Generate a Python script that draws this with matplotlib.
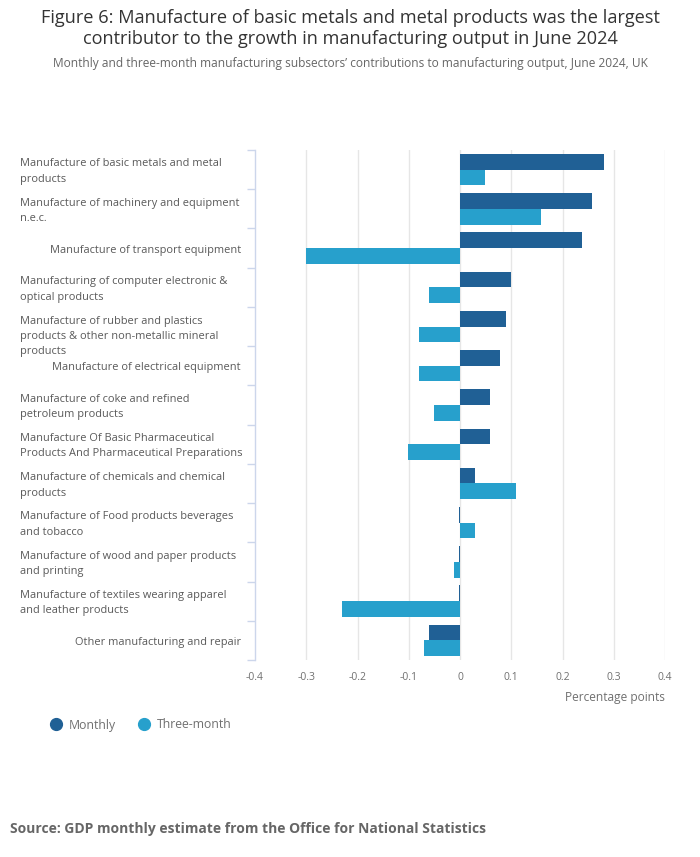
import matplotlib
matplotlib.use("Agg")
import matplotlib.pyplot as plt
from matplotlib.lines import Line2D
import matplotlib.transforms as mtransforms
import numpy as np

plt.rcParams['font.family'] = ['Open Sans', 'DejaVu Sans']

categories = [
    "Manufacture of basic metals and metal\nproducts",
    "Manufacture of machinery and equipment\nn.e.c.",
    "Manufacture of transport equipment",
    "Manufacturing of computer electronic &\noptical products",
    "Manufacture of rubber and plastics\nproducts & other non-metallic mineral\nproducts",
    "Manufacture of electrical equipment",
    "Manufacture of coke and refined\npetroleum products",
    "Manufacture Of Basic Pharmaceutical\nProducts And Pharmaceutical Preparations",
    "Manufacture of chemicals and chemical\nproducts",
    "Manufacture of Food products beverages\nand tobacco",
    "Manufacture of wood and paper products\nand printing",
    "Manufacture of textiles wearing apparel\nand leather products",
    "Other manufacturing and repair",
]
monthly = [0.28, 0.258, 0.238, 0.10, 0.09, 0.078, 0.058, 0.058, 0.029, -0.002, -0.002, -0.002, -0.061]
three_month = [0.049, 0.158, -0.301, -0.061, -0.08, -0.08, -0.051, -0.102, 0.11, 0.029, -0.012, -0.231, -0.07]
xticks = [-0.4, -0.3, -0.2, -0.1, 0, 0.1, 0.2, 0.3, 0.4]
xtick_labels = ["-0.4", "-0.3", "-0.2", "-0.1", "0", "0.1", "0.2", "0.3", "0.4"]
series_names = ["Monthly", "Three-month"]

c_month = "#206095"
c_three = "#27a0cc"
txt = "#707070"
spine_c = "#ccd6eb"

W, H = 700, 857
fig = plt.figure(figsize=(W / 100, H / 100), dpi=100)
ax = fig.add_axes([255 / W, 1 - 660 / H, 410 / W, 510 / H])

y = np.arange(len(categories))
bh = 0.4
ax.barh(y - bh / 2, monthly, height=bh, color=c_month, zorder=3)
ax.barh(y + bh / 2, three_month, height=bh, color=c_three, zorder=3)

ax.set_xlim(-0.4, 0.4)
ax.set_ylim(len(categories) - 0.5, -0.5)
ax.set_xticks(xticks)
ax.set_xticklabels(xtick_labels)
for xv in xticks[1:]:
    ax.axvline(xv, color="#e6e6e6", lw=1, zorder=1)

for s in ["top", "right", "bottom"]:
    ax.spines[s].set_visible(False)
ax.spines["left"].set_color(spine_c)
ax.spines["left"].set_linewidth(1)

ax.set_yticks(np.arange(-0.5, len(categories), 1.0))
ax.set_yticklabels([])
ax.tick_params(axis="y", length=6, color=spine_c, width=1)
ax.tick_params(axis="x", length=0, labelsize=7.5, labelcolor=txt, pad=9)

for i, lab in enumerate(categories):
    nlines = lab.count("\n") + 1
    dy = 2 if nlines < 3 else 10
    off = mtransforms.ScaledTranslation(0, -dy / 100, fig.dpi_scale_trans)
    trans = mtransforms.blended_transform_factory(fig.transFigure, ax.transData) + off
    if nlines > 1:
        ax.text(20 / W, i, lab, transform=trans, ha="left", va="center",
                fontsize=7.9, color="#595959", linespacing=1.55)
    else:
        ax.text(241 / W, i, lab, transform=trans, ha="right", va="center",
                fontsize=7.9, color="#595959")

fig.text(665 / W, 1 - 697 / H, "Percentage points", ha="right", va="center",
         fontsize=8.6, color=txt)

fig.text(0.5, 1 - 18 / H, "Figure 6: Manufacture of basic metals and metal products was the largest",
         ha="center", va="center", fontsize=13.1, color="#333333")
fig.text(0.5, 1 - 39 / H, "contributor to the growth in manufacturing output in June 2024",
         ha="center", va="center", fontsize=13.1, color="#333333")
fig.text(0.5, 1 - 64 / H,
         "Monthly and three-month manufacturing subsectors\u2019 contributions to manufacturing output, June 2024, UK",
         ha="center", va="center", fontsize=8.55, color="#666666")

handles = [Line2D([], [], marker="o", ls="none", color=c, markersize=8.5) for c in (c_month, c_three)]
fig.legend(handles, series_names, loc="center left", bbox_to_anchor=(36 / W, 1 - 725 / H),
           ncol=2, frameon=False, fontsize=8.8, labelcolor=txt, handletextpad=0.25,
           columnspacing=1.6, handlelength=1.5)

fig.text(10 / W, 1 - 829 / H, "Source: GDP monthly estimate from the Office for National Statistics",
         ha="left", va="center", fontsize=10.0, fontweight="bold", color="#666666")

fig.savefig("out.png", dpi=100)
